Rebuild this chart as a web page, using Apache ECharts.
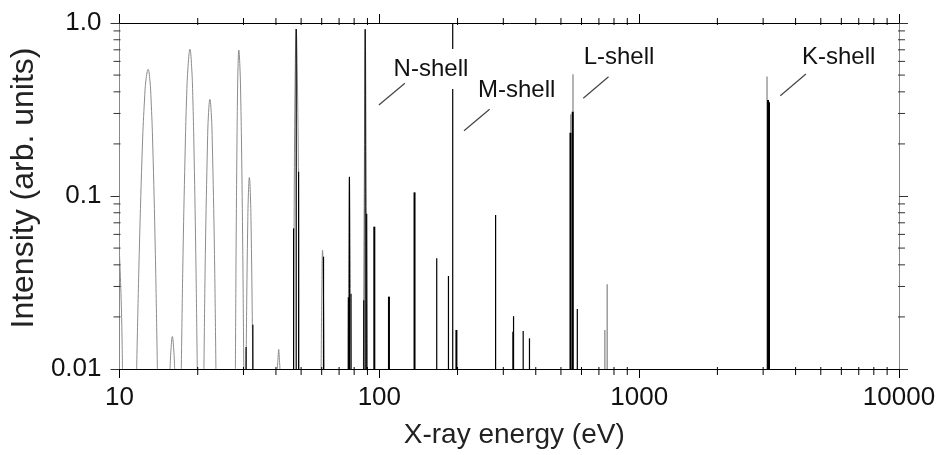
<!DOCTYPE html>
<html><head><meta charset="utf-8">
<script src="https://cdn.jsdelivr.net/npm/echarts@6/dist/echarts.min.js"></script>
<style>html,body{margin:0;padding:0;background:#fff}#c{width:940px;height:455px}</style>
</head><body><div id="c"></div>
<script>
// ---- tick labels ----
const xTickLabels = ['10', '100', '1000', '10000'];
const yTickLabels = ['0.01', '0.1', '1.0'];
const xMinorTicks = [20,30,40,50,60,70,80,90,200,300,400,500,600,700,800,900,2000,3000,4000,5000,6000,7000,8000,9000];
const yMinorTicks = [0.02,0.03,0.04,0.05,0.06,0.07,0.08,0.09,0.2,0.3,0.4,0.5,0.6,0.7,0.8,0.9];

// ---- broadened (gray) peaks: energy (eV) / intensity; null separates peaks ----
const grayEnergy = [
  9.91, 10.03, 10.18, 10.27, null,
  11.64, 11.92, 12.26, 12.48, 12.64, 12.89, 13.09, 13.23, 13.42, 13.73, 13.99, null,
  15.65, 15.75, 15.97, 16.20, 16.30, null,
  17.29, 17.57, 17.92, 18.11, 18.32, 18.67, 18.98, 19.16, 19.33, 19.65, 19.92, null,
  21.13, 21.41, 21.81, 21.99, 22.28, 22.57, 22.76, 23.19, 23.50, null,
  27.93, 28.10, 28.32, 28.44, 28.57, 28.78, 29.10, 29.29, 29.48, 29.81, 30.08, null,
  30.70, 30.88, 31.13, 31.33, 31.61, 31.90, 32.11, 32.38, 32.58, null,
  40.48, 40.73, 40.99, 41.24, 41.46, null,
  46.79, 47.03, 47.41, 47.87, 48.38, 48.89, 49.02, null,
  59.70, 60.02, 60.45, 60.99, 61.37, null,
  75.80, 76.25, 76.72, 77.27, 77.82, null,
  86.83, 87.45, 88.23, 89.17, 89.95
];
const grayIntensity = [
  0.0595, 0.041, 0.021, 0.01, null,
  0.01, 0.0487, 0.2025, 0.359, 0.468, 0.54, 0.468, 0.359, 0.2025, 0.0487, 0.01, null,
  0.01, 0.0124, 0.0154, 0.0124, 0.01, null,
  0.01, 0.0487, 0.2025, 0.359, 0.535, 0.705, 0.535, 0.359, 0.2025, 0.0487, 0.01, null,
  0.01, 0.0487, 0.2025, 0.294, 0.362, 0.294, 0.2025, 0.0487, 0.01, null,
  0.01, 0.0487, 0.2025, 0.359, 0.535, 0.698, 0.535, 0.359, 0.2025, 0.0487, 0.01, null,
  0.01, 0.0251, 0.0636, 0.1013, 0.128, 0.1013, 0.0636, 0.0251, 0.01, null,
  0.01, 0.0114, 0.013, 0.0114, 0.01, null,
  0.01, 0.0948, 0.468, 0.923, 0.468, 0.0948, 0.01, null,
  0.01, 0.0251, 0.0487, 0.0251, 0.01, null,
  0.01, 0.0487, 0.129, 0.0487, 0.01, null,
  0.01, 0.0948, 0.92, 0.0948, 0.01
];

// ---- sharp lines ----
const thinLineEnergy = [30.7, 32.6, 46.77, 47.87, 48.9, 60.98, 76.0, 76.72, 77.8, 87.1, 88.23, 89.4, 166.3, 184.5, 191.6, 280.2, 326.6, 328.5, 357.8, 378.3, 578];
const thinLineIntensity = [0.0134, 0.018, 0.065, 0.923, 0.138, 0.0446, 0.026, 0.129, 0.0272, 0.025, 0.92, 0.079, 0.0436, 0.0345, 1.0, 0.0777, 0.0164, 0.0202, 0.0166, 0.01504, 0.0222];
const thickLineEnergy = [95.65, 108.9, 136.6, 198, 544, 555, 3133, 3160];
const thickLineIntensity = [0.0665, 0.0262, 0.105, 0.0168, 0.232, 0.307, 0.359, 0.348];
const grayLineEnergy = [545.5, 556.3, 738, 753, 3105];
const grayLineIntensity = [0.297, 0.505, 0.0168, 0.0309, 0.49];

// ---- annotations ----
const shellLabels = ['N-shell', 'M-shell', 'L-shell', 'K-shell'];
const labelEnergy = [111.5, 239.8, 611.5, 4231];
const labelIntensity = [0.542, 0.4066, 0.6334, 0.631];
const leaderFromEnergy = [99.6, 211.8, 609.3, 3493];
const leaderFromIntensity = [0.3357, 0.2385, 0.367, 0.380];
const leaderToEnergy = [125.4, 265.7, 762.3, 4382];
const leaderToIntensity = [0.448, 0.3171, 0.4894, 0.507];

const X_MIN = 10, X_MAX = 10000, Y_MIN = 0.01, Y_MAX = 1;
const FONT = '"Liberation Sans", Arial, Helvetica, sans-serif';

const chart = echarts.init(document.getElementById('c'), null, {renderer: 'canvas'});

// split gray curves into separate series
const graySeries = [];
let cur = [];
grayEnergy.forEach((e, i) => {
  if (e === null) { if (cur.length) graySeries.push(cur); cur = []; }
  else cur.push([e, grayIntensity[i]]);
});
if (cur.length) graySeries.push(cur);

function spikeSeries(E, I, color, width) {
  return {
    type: 'custom', xAxisIndex: 0, yAxisIndex: 0, clip: true, silent: true, z: 3,
    data: E.map((e, i) => [e, I[i]]),
    encode: {x: 0, y: 1},
    renderItem: function (params, api) {
      const top = api.coord([api.value(0), api.value(1)]);
      const bot = api.coord([api.value(0), Y_MIN]);
      return {type: 'line', shape: {x1: top[0], y1: top[1], x2: bot[0], y2: bot[1]},
              style: {stroke: color, lineWidth: width}};
    }
  };
}

function xMinorSeries() {
  return {
    type: 'custom', xAxisIndex: 0, yAxisIndex: 0, clip: false, silent: true, z: 5,
    data: xMinorTicks.map(v => [v, Y_MIN]),
    encode: {x: 0, y: 1},
    renderItem: function (params, api) {
      const b = api.coord([api.value(0), Y_MIN]);
      const t = api.coord([api.value(0), Y_MAX]);
      return {type: 'group', children: [
        {type: 'line', shape: {x1: b[0], y1: b[1] - 2, x2: b[0], y2: b[1] + 6}, style: {stroke: '#000', lineWidth: 1}},
        {type: 'line', shape: {x1: t[0], y1: t[1] + 2, x2: t[0], y2: t[1] - 5}, style: {stroke: '#000', lineWidth: 1}}
      ]};
    }
  };
}
function yMinorSeries() {
  return {
    type: 'custom', xAxisIndex: 0, yAxisIndex: 0, clip: false, silent: true, z: 5,
    data: yMinorTicks.map(v => [X_MIN, v]),
    encode: {x: 0, y: 1},
    renderItem: function (params, api) {
      const l = api.coord([X_MIN, api.value(1)]);
      const r = api.coord([X_MAX, api.value(1)]);
      return {type: 'group', children: [
        {type: 'line', shape: {x1: l[0] + 1, y1: l[1], x2: l[0] - 6, y2: l[1]}, style: {stroke: '#333', lineWidth: 1}},
        {type: 'line', shape: {x1: r[0] - 1, y1: r[1], x2: r[0] + 6, y2: r[1]}, style: {stroke: '#333', lineWidth: 1}}
      ]};
    }
  };
}

const baseX = {
  type: 'log', logBase: 10, min: X_MIN, max: X_MAX, gridIndex: 0,
  splitLine: {show: false},
  axisTick: {show: true, inside: false, length: 9, lineStyle: {color: '#000', width: 1}},
  axisLine: {show: true, lineStyle: {color: '#000', width: 1}}
};
const baseY = {
  type: 'log', logBase: 10, min: Y_MIN, max: Y_MAX, gridIndex: 0,
  splitLine: {show: false},
  axisTick: {show: true, inside: false, length: 9, lineStyle: {color: '#333', width: 1}},
  axisLine: {show: true, lineStyle: {color: '#888', width: 1}}
};

const option = {
  animation: false,
  backgroundColor: '#fff',
  grid: {left: 117, right: 41, top: 23, bottom: 86, containLabel: false},
  xAxis: [
    Object.assign({}, baseX, {
      position: 'bottom',
      name: 'X-ray energy (eV)', nameLocation: 'middle', nameGap: 52,
      nameTextStyle: {fontSize: 28, color: '#222', fontFamily: FONT, padding: [0, 0, 0, 10]},
      axisLabel: {show: true, fontSize: 26, color: '#111', fontFamily: FONT, margin: 16,
        showMinLabel: true, showMaxLabel: true,
        formatter: v => xTickLabels[Math.round(Math.log10(v)) - 1]}
    }),
    Object.assign({}, baseX, {position: 'top', axisLabel: {show: false}})
  ],
  yAxis: [
    Object.assign({}, baseY, {
      position: 'left',
      name: 'Intensity (arb. units)', nameLocation: 'middle', nameGap: 72, nameRotate: 90,
      nameTextStyle: {fontSize: 32, color: '#222', fontFamily: FONT, padding: [0, 0, 0, 16]},
      axisLabel: {show: true, fontSize: 26, color: '#111', fontFamily: FONT, margin: 18,
        showMinLabel: true, showMaxLabel: true,
        formatter: v => yTickLabels[Math.round(Math.log10(v)) + 2]}
    }),
    Object.assign({}, baseY, {position: 'right', axisLabel: {show: false}})
  ],
  series: [].concat(
    graySeries.map(d => ({
      type: 'line', xAxisIndex: 0, yAxisIndex: 0, data: d, showSymbol: false, symbol: 'none',
      smooth: 0.4, clip: true, silent: true, z: 2,
      lineStyle: {color: '#8c8c8c', width: 1}
    })),
    [
      spikeSeries(grayLineEnergy, grayLineIntensity, '#777', 1.1),
      spikeSeries(thinLineEnergy, thinLineIntensity, '#000', 1.2),
      spikeSeries(thickLineEnergy, thickLineIntensity, '#000', 2),
      xMinorSeries(),
      yMinorSeries()
    ]
  )
};
chart.setOption(option);

// annotations, placed from data coordinates
const g = [];
shellLabels.forEach((t, k) => {
  const p = chart.convertToPixel({gridIndex: 0}, [labelEnergy[k], labelIntensity[k]]);
  const a = chart.convertToPixel({gridIndex: 0}, [leaderFromEnergy[k], leaderFromIntensity[k]]);
  const b = chart.convertToPixel({gridIndex: 0}, [leaderToEnergy[k], leaderToIntensity[k]]);
  g.push({type: 'text', x: p[0], y: p[1], z: 100,
    style: {text: t, font: '24px ' + FONT, fill: '#111', align: 'left', verticalAlign: 'middle',
      backgroundColor: k === 0 ? '#fff' : null, padding: k === 0 ? [14, 2, 2, 2] : 0}});
  g.push({type: 'line', z: 100, shape: {x1: a[0], y1: a[1], x2: b[0], y2: b[1]},
    style: {stroke: '#444', lineWidth: 1.2}});
});
chart.setOption({graphic: g});
</script>
</body></html>
